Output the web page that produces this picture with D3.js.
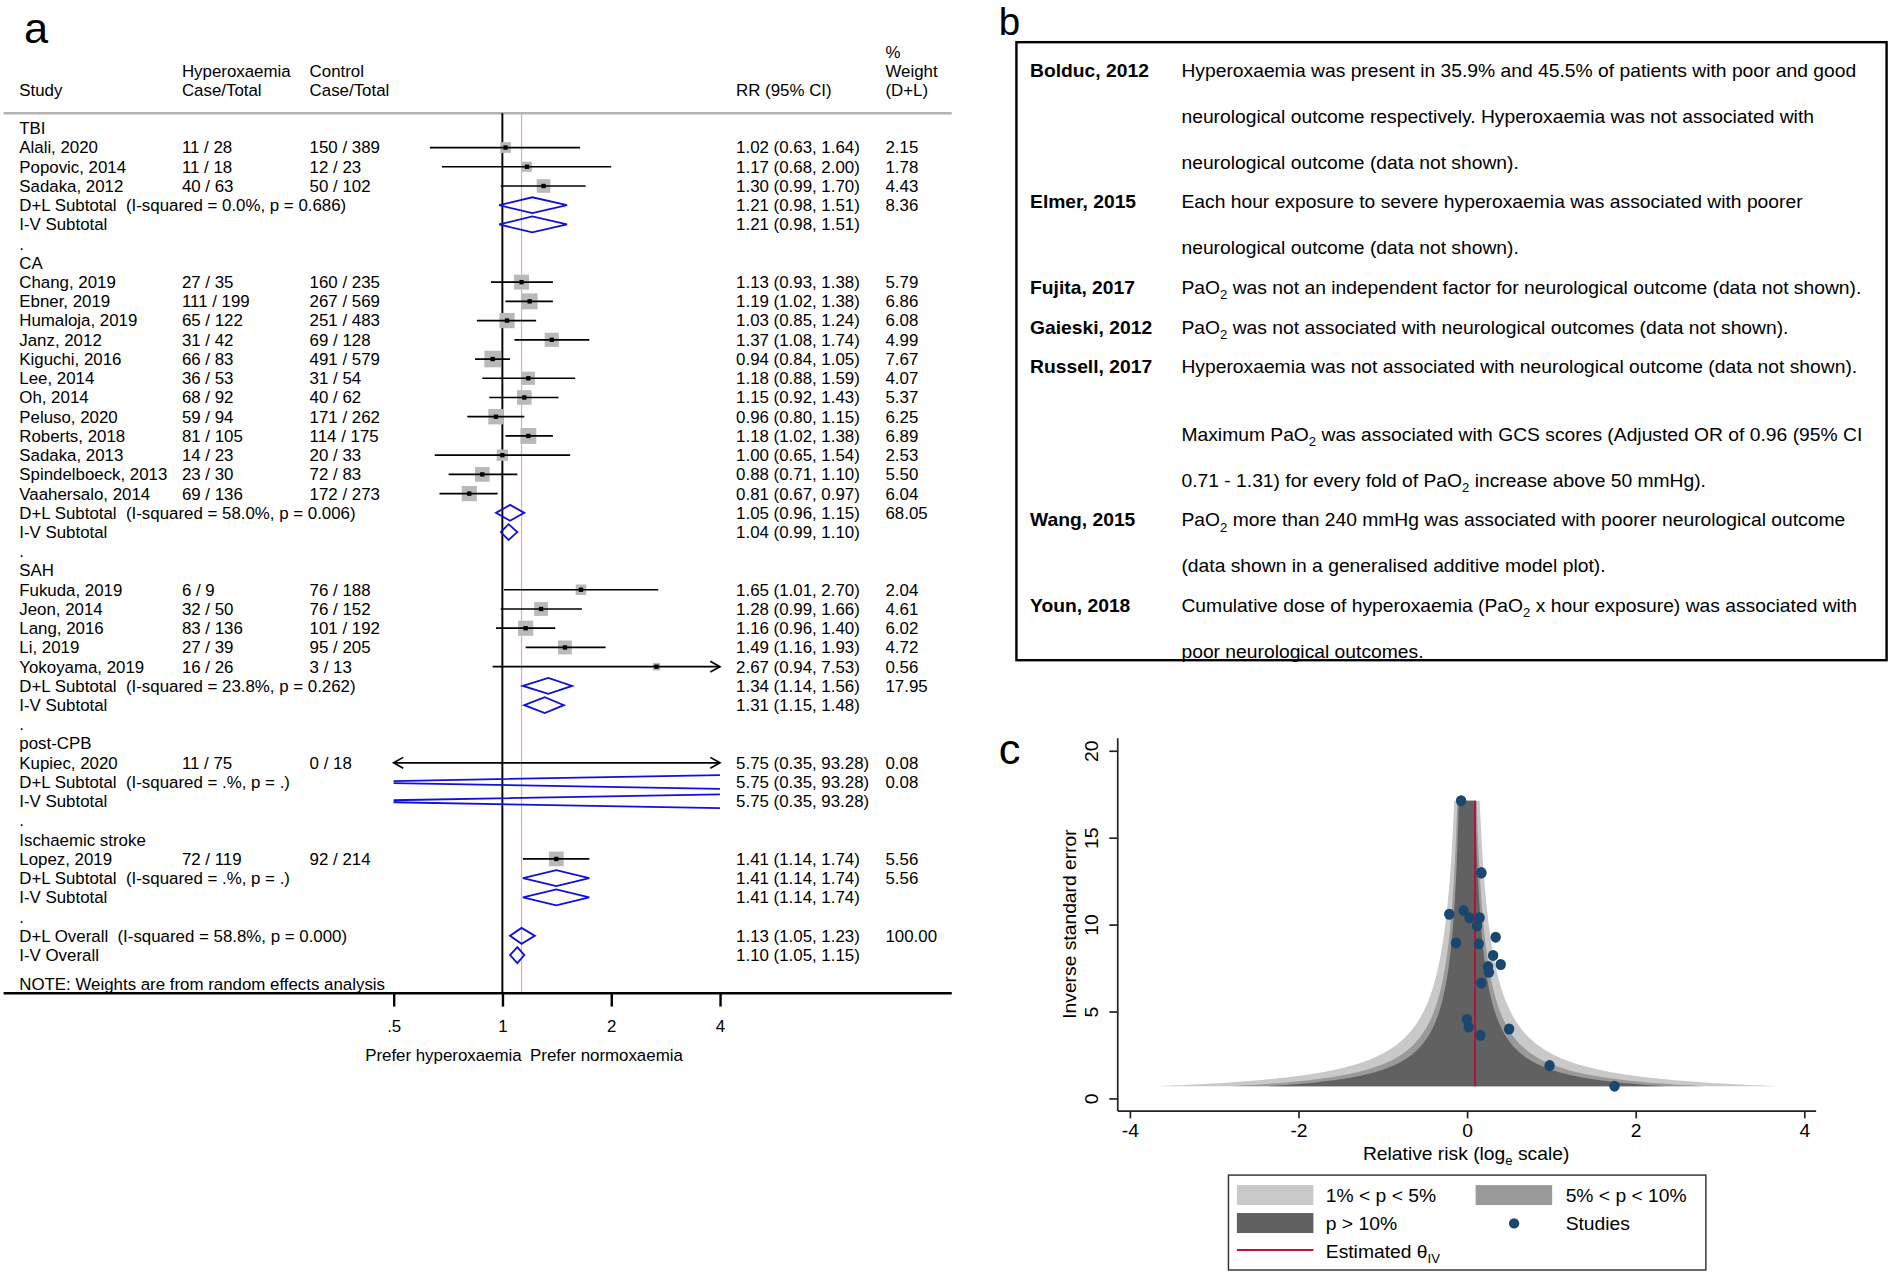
<!DOCTYPE html>
<html>
<head>
<meta charset="utf-8">
<script src="https://cdn.jsdelivr.net/npm/d3@7"></script>
<style>
    html, body { margin: 0; padding: 0; background: #fff; }
    svg { display: block; font-family: "Liberation Sans", Arial, sans-serif; }
    text { white-space: pre; }
</style>
</head>
<body>
<svg id="fig" width="1889" height="1274" viewBox="0 0 1568 1057.5"></svg>
<script>
// ---- panel a : forest plot data ----
const groupNames = ['TBI', 'CA', 'SAH', 'post-CPB', 'Ischaemic stroke'];

const studyNames = ['Alali, 2020', 'Popovic, 2014', 'Sadaka, 2012',
    'Chang, 2019', 'Ebner, 2019', 'Humaloja, 2019', 'Janz, 2012', 'Kiguchi, 2016', 'Lee, 2014',
    'Oh, 2014', 'Peluso, 2020', 'Roberts, 2018', 'Sadaka, 2013', 'Spindelboeck, 2013', 'Vaahersalo, 2014',
    'Fukuda, 2019', 'Jeon, 2014', 'Lang, 2016', 'Li, 2019', 'Yokoyama, 2019',
    'Kupiec, 2020',
    'Lopez, 2019'];
const studyGroup = ['TBI', 'TBI', 'TBI',
    'CA', 'CA', 'CA', 'CA', 'CA', 'CA', 'CA', 'CA', 'CA', 'CA', 'CA', 'CA',
    'SAH', 'SAH', 'SAH', 'SAH', 'SAH',
    'post-CPB',
    'Ischaemic stroke'];
const hyperCaseTotal = ['11 / 28', '11 / 18', '40 / 63',
    '27 / 35', '111 / 199', '65 / 122', '31 / 42', '66 / 83', '36 / 53', '68 / 92', '59 / 94', '81 / 105',
    '14 / 23', '23 / 30', '69 / 136',
    '6 / 9', '32 / 50', '83 / 136', '27 / 39', '16 / 26',
    '11 / 75',
    '72 / 119'];
const controlCaseTotal = ['150 / 389', '12 / 23', '50 / 102',
    '160 / 235', '267 / 569', '251 / 483', '69 / 128', '491 / 579', '31 / 54', '40 / 62', '171 / 262',
    '114 / 175', '20 / 33', '72 / 83', '172 / 273',
    '76 / 188', '76 / 152', '101 / 192', '95 / 205', '3 / 13',
    '0 / 18',
    '92 / 214'];
const studyRR   = [1.02, 1.17, 1.30, 1.13, 1.19, 1.03, 1.37, 0.94, 1.18, 1.15, 0.96, 1.18, 1.00, 0.88, 0.81, 1.65, 1.28, 1.16, 1.49, 2.67, 5.75, 1.41];
const studyLow  = [0.63, 0.68, 0.99, 0.93, 1.02, 0.85, 1.08, 0.84, 0.88, 0.92, 0.80, 1.02, 0.65, 0.71, 0.67, 1.01, 0.99, 0.96, 1.16, 0.94, 0.35, 1.14];
const studyHigh = [1.64, 2.00, 1.70, 1.38, 1.38, 1.24, 1.74, 1.05, 1.59, 1.43, 1.15, 1.38, 1.54, 1.10, 0.97, 2.70, 1.66, 1.40, 1.93, 7.53, 93.28, 1.74];
const studyWeight = [2.15, 1.78, 4.43, 5.79, 6.86, 6.08, 4.99, 7.67, 4.07, 5.37, 6.25, 6.89, 2.53, 5.50, 6.04, 2.04, 4.61, 6.02, 4.72, 0.56, 0.08, 5.56];

const pooledLabel = [
    'D+L Subtotal  (I-squared = 0.0%, p = 0.686)', 'I-V Subtotal',
    'D+L Subtotal  (I-squared = 58.0%, p = 0.006)', 'I-V Subtotal',
    'D+L Subtotal  (I-squared = 23.8%, p = 0.262)', 'I-V Subtotal',
    'D+L Subtotal  (I-squared = .%, p = .)', 'I-V Subtotal',
    'D+L Subtotal  (I-squared = .%, p = .)', 'I-V Subtotal',
    'D+L Overall  (I-squared = 58.8%, p = 0.000)', 'I-V Overall'];
const pooledGroup = ['TBI', 'TBI', 'CA', 'CA', 'SAH', 'SAH', 'post-CPB', 'post-CPB', 'Ischaemic stroke', 'Ischaemic stroke', 'Overall', 'Overall'];
const pooledRR   = [1.21, 1.21, 1.05, 1.04, 1.34, 1.31, 5.75, 5.75, 1.41, 1.41, 1.13, 1.10];
const pooledLow  = [0.98, 0.98, 0.96, 0.99, 1.14, 1.15, 0.35, 0.35, 1.14, 1.14, 1.05, 1.05];
const pooledHigh = [1.51, 1.51, 1.15, 1.10, 1.56, 1.48, 93.28, 93.28, 1.74, 1.74, 1.23, 1.15];
const pooledWeight = [8.36, null, 68.05, null, 17.95, null, 0.08, null, 5.56, null, 100.00, null];

const forestTicks = [0.5, 1, 2, 4];
const forestTickLabels = ['.5', '1', '2', '4'];

// ---- panel b : narrative studies ----
const narrativeNames = ['Bolduc, 2012', 'Elmer, 2015', 'Fujita, 2017', 'Gaieski, 2012', 'Russell, 2017', '', 'Wang, 2015', 'Youn, 2018'];
const narrativeLines = [
    ['Hyperoxaemia was present in 35.9% and 45.5% of patients with poor and good',
     'neurological outcome respectively. Hyperoxaemia was not associated with',
     'neurological outcome (data not shown).'],
    ['Each hour exposure to severe hyperoxaemia was associated with poorer',
     'neurological outcome (data not shown).'],
    ['PaO_{2} was not an independent factor for neurological outcome (data not shown).'],
    ['PaO_{2} was not associated with neurological outcomes (data not shown).'],
    ['Hyperoxaemia was not associated with neurological outcome (data not shown).'],
    ['Maximum PaO_{2} was associated with GCS scores (Adjusted OR of 0.96 (95% CI',
     '0.71 - 1.31) for every fold of PaO_{2} increase above 50 mmHg).'],
    ['PaO_{2} more than 240 mmHg was associated with poorer neurological outcome',
     '(data shown in a generalised additive model plot).'],
    ['Cumulative dose of hyperoxaemia (PaO_{2} x hour exposure) was associated with',
     'poor neurological outcomes.']];

// ---- panel c : funnel plot (log RR, 1/SE) ----
const funnelLogRR = [0.02, 0.16, 0.26, 0.12, 0.17, 0.03, 0.31, -0.07, 0.17, 0.14, -0.04, 0.17, 0.00, -0.13, -0.21, 0.50, 0.25, 0.15, 0.40, 0.98, 1.75, 0.34];
const funnelPrecision = [4.10, 3.63, 7.25, 9.93, 12.97, 10.38, 8.22, 17.12, 6.63, 8.89, 10.80, 12.97, 4.54, 8.95, 10.59, 3.99, 7.58, 10.39, 7.70, 1.88, 0.70, 9.27];
const thetaIV = 0.095;
const contourZ = [2.576, 1.960, 1.645];
const contourLabels = ['1% < p < 5%', '5% < p < 10%', 'p > 10%'];
const funnelXTicks = [-4, -2, 0, 2, 4];
const funnelYTicks = [0, 5, 10, 15, 20];

// ===================================================================
const svg = d3.select('#fig');
const fmt = d3.format('.2f');
const BLUE = '#1010d8';

function richText(sel, str, fs) {
    // "_{x}" -> subscript
    const parts = str.split(/(_\{[^}]*\})/);
    let shifted = false;
    parts.forEach(p => {
        if (!p) return;
        const m = p.match(/^_\{(.*)\}$/);
        if (m) {
            sel.append('tspan').attr('dy', fs * 0.28).attr('font-size', fs * 0.68).text(m[1]);
            shifted = true;
        } else {
            const t = sel.append('tspan').text(p);
            if (shifted) { t.attr('dy', -fs * 0.28); shifted = false; }
        }
    });
    return sel;
}

/* ---------------- panel a ---------------- */
(function () {
    const fs = 14;
    const row0 = 106.5, rowH = 15.96;
    const col = { study: 16, hyper: 151, ctrl: 257, rr: 611, w: 735 };
    const top = 94, axisY = 824.5, left = 3, right = 790;
    const x = d3.scaleLog().base(2).domain([0.5, 4]).range([326.7, 597.6]);
    const g = svg.append('g').attr('font-size', fs).attr('fill', '#000');
    const base = y => y + fs * 0.35;

    g.append('text').attr('x', 20).attr('y', 36).attr('font-size', 36).text('a');

    // headers
    const hdr = [
        [col.study, 75, 'Study'], [col.hyper, 59, 'Hyperoxaemia'], [col.hyper, 75, 'Case/Total'],
        [col.ctrl, 59, 'Control'], [col.ctrl, 75, 'Case/Total'], [col.rr, 75, 'RR (95% CI)'],
        [col.w, 43, '%'], [col.w, 59, 'Weight'], [col.w, 75, '(D+L)']
    ];
    g.selectAll('.hdr').data(hdr).enter().append('text')
        .attr('x', d => d[0]).attr('y', d => base(d[1])).text(d => d[2]);
    g.append('line').attr('x1', left).attr('x2', right).attr('y1', top).attr('y2', top)
        .attr('stroke', '#b4b4b4').attr('stroke-width', 2.2);

    // rows
    let rows = [];
    groupNames.forEach(gn => {
        rows.push({ type: 'label', text: gn });
        studyNames.forEach((s, i) => { if (studyGroup[i] === gn) rows.push({ type: 'study', i }); });
        pooledGroup.forEach((p, j) => { if (p === gn) rows.push({ type: 'pooled', j }); });
        rows.push({ type: 'label', text: '.' });
    });
    pooledGroup.forEach((p, j) => { if (p === 'Overall') rows.push({ type: 'pooled', j }); });
    rows.forEach((r, k) => { r.y = row0 + rowH * k; });

    // vertical reference lines
    g.append('line').attr('x1', x(1.13)).attr('x2', x(1.13)).attr('y1', top).attr('y2', axisY)
        .attr('stroke', '#e7a9a9').attr('stroke-width', 1);
    g.append('line').attr('x1', x(1)).attr('x2', x(1)).attr('y1', top).attr('y2', axisY)
        .attr('stroke', '#000').attr('stroke-width', 1.6);

    svg.append('clipPath').attr('id', 'fclip').append('rect')
        .attr('x', x(0.5)).attr('y', top).attr('width', x(4) - x(0.5)).attr('height', axisY - top);
    const marks = g.append('g');

    rows.forEach(r => {
        if (r.type === 'label') {
            g.append('text').attr('x', col.study).attr('y', base(r.y)).text(r.text);
        } else if (r.type === 'study') {
            const i = r.i;
            g.append('text').attr('x', col.study).attr('y', base(r.y)).text(studyNames[i]);
            g.append('text').attr('x', col.hyper).attr('y', base(r.y)).text(hyperCaseTotal[i]);
            g.append('text').attr('x', col.ctrl).attr('y', base(r.y)).text(controlCaseTotal[i]);
            g.append('text').attr('x', col.rr).attr('y', base(r.y))
                .text(`${fmt(studyRR[i])} (${fmt(studyLow[i])}, ${fmt(studyHigh[i])})`);
            g.append('text').attr('x', col.w).attr('y', base(r.y)).text(fmt(studyWeight[i]));

            // weight box
            if (studyRR[i] >= 0.5 && studyRR[i] <= 4) {
                const s = 3.5 + 3.7 * Math.sqrt(studyWeight[i]);
                marks.append('rect').attr('x', x(studyRR[i]) - s / 2).attr('y', r.y - s / 2)
                    .attr('width', s).attr('height', s).attr('fill', '#b9b9b9');
            }
            const lo = Math.max(studyLow[i], 0.5), hi = Math.min(studyHigh[i], 4);
            marks.append('line').attr('x1', x(lo)).attr('x2', x(hi)).attr('y1', r.y).attr('y2', r.y)
                .attr('stroke', '#000').attr('stroke-width', 1.4);
            if (studyLow[i] < 0.5) {
                marks.append('path').attr('d', `M${x(0.5) + 8},${r.y - 4.5}L${x(0.5)},${r.y}L${x(0.5) + 8},${r.y + 4.5}`)
                    .attr('fill', 'none').attr('stroke', '#000').attr('stroke-width', 1.4);
            }
            if (studyHigh[i] > 4) {
                marks.append('path').attr('d', `M${x(4) - 8},${r.y - 4.5}L${x(4)},${r.y}L${x(4) - 8},${r.y + 4.5}`)
                    .attr('fill', 'none').attr('stroke', '#000').attr('stroke-width', 1.4);
            }
            if (studyRR[i] >= 0.5 && studyRR[i] <= 4) {
                marks.append('rect').attr('x', x(studyRR[i]) - 1.8).attr('y', r.y - 1.8)
                    .attr('width', 3.6).attr('height', 3.6).attr('fill', '#000');
            }
        } else {
            const j = r.j;
            g.append('text').attr('x', col.study).attr('y', base(r.y)).text(pooledLabel[j]);
            g.append('text').attr('x', col.rr).attr('y', base(r.y))
                .text(`${fmt(pooledRR[j])} (${fmt(pooledLow[j])}, ${fmt(pooledHigh[j])})`);
            if (pooledWeight[j] != null) {
                g.append('text').attr('x', col.w).attr('y', base(r.y)).text(fmt(pooledWeight[j]));
            }
            const h = 6.6;
            marks.append('path')
                .attr('d', `M${x(pooledLow[j])},${r.y}L${x(pooledRR[j])},${r.y - h}L${x(pooledHigh[j])},${r.y}L${x(pooledRR[j])},${r.y + h}Z`)
                .attr('fill', 'none').attr('stroke', BLUE).attr('stroke-width', 1.5)
                .attr('clip-path', 'url(#fclip)');
        }
    });

    g.append('text').attr('x', col.study).attr('y', base(816.5))
        .text('NOTE: Weights are from random effects analysis');

    // x axis
    g.append('line').attr('x1', left).attr('x2', right).attr('y1', axisY).attr('y2', axisY)
        .attr('stroke', '#000').attr('stroke-width', 2);
    const ax = g.append('g').attr('transform', `translate(0,${axisY})`)
        .call(d3.axisBottom(x).tickValues(forestTicks).tickFormat((d, i) => forestTickLabels[i])
            .tickSize(11).tickPadding(11));
    ax.select('.domain').remove();
    ax.selectAll('line').attr('stroke', '#000').attr('stroke-width', 2);
    ax.selectAll('text').attr('font-size', fs).attr('font-family', null).attr('fill', '#000');

    g.append('text').attr('x', 433).attr('y', base(876)).attr('text-anchor', 'end').text('Prefer hyperoxaemia');
    g.append('text').attr('x', 440).attr('y', base(876)).text('Prefer normoxaemia');
}());

/* ---------------- panel b ---------------- */
(function () {
    const fs = 16;
    const g = svg.append('g').attr('font-size', fs).attr('fill', '#000');
    g.append('text').attr('x', 829).attr('y', 29).attr('font-size', 32).text('b');
    g.append('rect').attr('x', 843.7).attr('y', 35).attr('width', 1566 - 843.7).attr('height', 548 - 35)
        .attr('fill', 'none').attr('stroke', '#000').attr('stroke-width', 2);

    let y = 58.3 - 33;
    narrativeNames.forEach((name, k) => {
        narrativeLines[k].forEach((line, li) => {
            y += li === 0 ? (name ? 33 : 56) : 38;
            if (li === 0 && name) {
                g.append('text').attr('x', 855).attr('y', y + fs * 0.35)
                    .attr('font-weight', 'bold').text(name);
            }
            richText(g.append('text').attr('x', 980.7).attr('y', y + fs * 0.35), line, fs);
        });
    });
}());

/* ---------------- panel c ---------------- */
(function () {
    const fs = 16;
    const g = svg.append('g').attr('font-size', fs).attr('fill', '#000');
    const x = d3.scaleLinear().domain([-4, 4]).range([937.8, 1497.6]);
    const y = d3.scaleLinear().domain([0, 20]).range([911.7, 623.1]);
    const axL = 927.8, axB = 922.3, axR = 1507.5, axT = 612.8;

    g.append('text').attr('x', 829).attr('y', 634).attr('font-size', 36).text('c');

    // significance contours
    const pMin = d3.min(funnelPrecision), pMax = d3.max(funnelPrecision);
    const ys = d3.range(0, 201).map(k => pMin * Math.pow(pMax / pMin, k / 200));
    const shades = ['#c9c9c9', '#9a9a9a', '#616161'];
    contourZ.forEach((z, k) => {
        const pts = ys.map(p => [x(-z / p), y(p)]).concat(ys.slice().reverse().map(p => [x(z / p), y(p)]));
        g.append('path').attr('d', d3.line()(pts) + 'Z').attr('fill', shades[k]);
    });

    g.append('line').attr('x1', x(thetaIV)).attr('x2', x(thetaIV)).attr('y1', y(pMin)).attr('y2', y(pMax))
        .attr('stroke', '#b3123c').attr('stroke-width', 1.6);

    g.selectAll('.pt').data(funnelLogRR).enter().append('ellipse')
        .attr('cx', d => x(d)).attr('cy', (d, i) => y(funnelPrecision[i]))
        .attr('rx', 4.3).attr('ry', 4.6).attr('fill', '#1a476f');

    // axes
    g.append('line').attr('x1', axL).attr('x2', axR).attr('y1', axB).attr('y2', axB)
        .attr('stroke', '#222').attr('stroke-width', 1.4);
    g.append('line').attr('x1', axL).attr('x2', axL).attr('y1', axT).attr('y2', axB)
        .attr('stroke', '#222').attr('stroke-width', 1.4);

    const xa = g.append('g').attr('transform', `translate(0,${axB})`)
        .call(d3.axisBottom(x).tickValues(funnelXTicks).tickFormat(d => String(d)).tickSize(6).tickPadding(4));
    xa.select('.domain').remove();
    xa.selectAll('line').attr('stroke', '#222').attr('stroke-width', 1.4);
    xa.selectAll('text').attr('font-size', fs).attr('font-family', null).attr('fill', '#000');

    const ya = g.append('g').attr('transform', `translate(${axL},0)`)
        .call(d3.axisLeft(y).tickValues(funnelYTicks).tickSize(7));
    ya.select('.domain').remove();
    ya.selectAll('line').attr('stroke', '#222').attr('stroke-width', 1.4);
    ya.selectAll('text').attr('font-size', fs).attr('font-family', null).attr('fill', '#000')
        .attr('transform', 'rotate(-90)').attr('x', 0).attr('y', -22).attr('dy', null)
        .attr('text-anchor', 'middle').attr('dominant-baseline', 'central');

    g.append('text').attr('transform', 'translate(888,767) rotate(-90)').attr('text-anchor', 'middle')
        .attr('dominant-baseline', 'central').text('Inverse standard error');
    richText(g.append('text').attr('x', 1217).attr('y', 957 + fs * 0.35).attr('text-anchor', 'middle'),
        'Relative risk (log_{e} scale)', fs);

    // legend
    const lg = g.append('g');
    lg.append('rect').attr('x', 1019.7).attr('y', 975.4).attr('width', 1416 - 1019.7).attr('height', 1054.2 - 975.4)
        .attr('fill', '#fff').attr('stroke', '#333').attr('stroke-width', 1.2);
    const sw = [[1026.7, 983.7, shades[0], 1100.5, 992, contourLabels[0]],
                [1224.9, 983.7, shades[1], 1299.6, 992, contourLabels[1]],
                [1026.7, 1006.9, shades[2], 1100.5, 1015.5, contourLabels[2]]];
    sw.forEach(s => {
        lg.append('rect').attr('x', s[0]).attr('y', s[1]).attr('width', 63.5).attr('height', 16.6).attr('fill', s[2]);
        lg.append('text').attr('x', s[3]).attr('y', s[4] + fs * 0.35).text(s[5]);
    });
    lg.append('circle').attr('cx', 1256.8).attr('cy', 1015.5).attr('r', 4.3).attr('fill', '#1a476f');
    lg.append('text').attr('x', 1299.6).attr('y', 1015.5 + fs * 0.35).text('Studies');
    lg.append('line').attr('x1', 1026.7).attr('x2', 1090.2).attr('y1', 1037.6).attr('y2', 1037.6)
        .attr('stroke', '#b3123c').attr('stroke-width', 1.6);
    richText(lg.append('text').attr('x', 1100.5).attr('y', 1038.5 + fs * 0.35), 'Estimated θ_{IV}', fs);
}());
</script>
</body>
</html>
